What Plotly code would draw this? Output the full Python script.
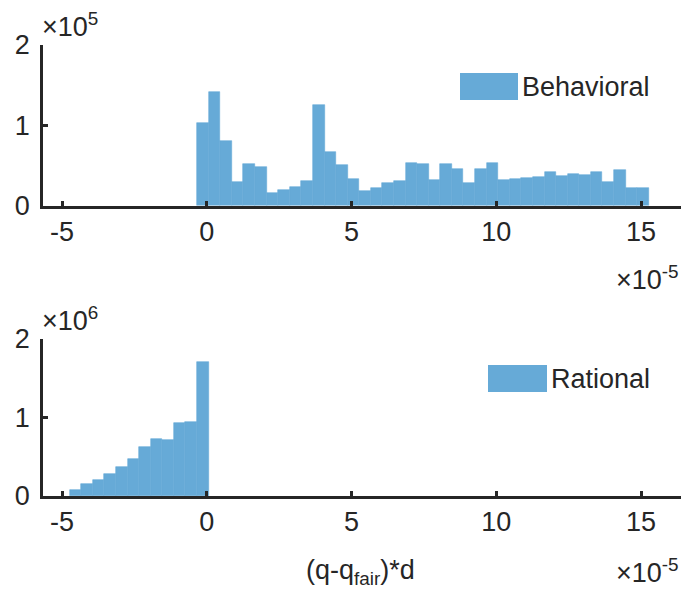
import plotly.graph_objects as go

# ---------------- data ----------------
SCALE_X = 1e-5
bin_width = 0.4 * SCALE_X

behav_start = -0.335 * SCALE_X
behav_counts = [103200, 141000, 80400, 29700, 52100, 48000, 15200, 19300, 23100, 30900,
                124900, 67000, 50100, 33000, 18100, 21200, 27700, 30500, 53300, 51700,
                31800, 51700, 45500, 27700, 45900, 53300, 31800, 33000, 34300, 35100,
                41400, 36800, 39300, 38000, 42100, 29300, 43900, 22200, 22200]

rational_start = -4.74 * SCALE_X
rational_counts = [73000, 153000, 204000, 284000, 366000, 475000, 624000, 722000,
                   717000, 930000, 946000, 1707000]

x_tick_vals = [-5e-5, 0, 5e-5, 10e-5, 15e-5]
x_tick_text = ["-5", "0", "5", "10", "15"]
top_y_ticks = [0, 1e5, 2e5]
bot_y_ticks = [0, 1e6, 2e6]
y_tick_text = ["0", "1", "2"]

names = ["Behavioral", "Rational"]

# ---------------- figure ----------------
W, H = 681, 594
BAR = "#66AAD7"
AX = "#262626"
FONT = "Liberation Sans, Arial, sans-serif"
FS = 27


def px(x):
    return x / W


def py(y):
    return 1 - y / H


def centers(start, n):
    return [start + bin_width * (i + 0.5) for i in range(n)]


fig = go.Figure()
fig.add_trace(go.Bar(x=centers(behav_start, len(behav_counts)), y=behav_counts,
                     width=[bin_width] * len(behav_counts), name=names[0],
                     marker=dict(color=BAR, line=dict(color=BAR, width=0.6)),
                     xaxis="x", yaxis="y", showlegend=False))
fig.add_trace(go.Bar(x=centers(rational_start, len(rational_counts)), y=rational_counts,
                     width=[bin_width] * len(rational_counts), name=names[1],
                     marker=dict(color=BAR, line=dict(color=BAR, width=0.6)),
                     xaxis="x2", yaxis="y2", showlegend=False))

xr = [-5.66e-5, 16.38e-5]
axis_common = dict(showline=True, linewidth=2.5, linecolor=AX, ticks="inside",
                   ticklen=5, tickwidth=2.5, tickcolor=AX, showgrid=False,
                   zeroline=False, automargin=False,
                   tickfont=dict(family=FONT, size=FS, color=AX))

fig.update_layout(
    width=W, height=H, margin=dict(l=0, r=0, t=0, b=0, autoexpand=False),
    plot_bgcolor="white", paper_bgcolor="white", bargap=0,
    xaxis=dict(domain=[px(43), 1], range=xr, tickvals=x_tick_vals,
               ticktext=x_tick_text, anchor="y", ticklabelstandoff=0, **axis_common),
    yaxis=dict(domain=[py(205.5), py(45)], range=[0, 2e5], tickvals=top_y_ticks,
               ticktext=y_tick_text, anchor="x", ticklabelstandoff=5, **axis_common),
    xaxis2=dict(domain=[px(43), 1], range=xr, tickvals=x_tick_vals,
                ticktext=x_tick_text, anchor="y2", ticklabelstandoff=0, **axis_common),
    yaxis2=dict(domain=[py(496), py(339)], range=[0, 2e6], tickvals=bot_y_ticks,
                ticktext=y_tick_text, anchor="x2", ticklabelstandoff=5, **axis_common),
)

ann_font = dict(family=FONT, size=FS, color=AX)
annotations = [
    dict(text="×10<sup>5</sup>", x=px(40), y=py(44), xanchor="left", yanchor="bottom"),
    dict(text="×10<sup>-5</sup>", x=px(681), y=py(259), xanchor="right", yanchor="top"),
    dict(text="×10<sup>6</sup>", x=px(40), y=py(338), xanchor="left", yanchor="bottom"),
    dict(text="×10<sup>-5</sup>", x=px(681), y=py(552), xanchor="right", yanchor="top"),
    dict(text="(q-q<sub>fair</sub>)*d", x=px(360), y=py(591), xanchor="center", yanchor="bottom"),
    dict(text=names[0], x=px(520), y=py(87), xanchor="left", yanchor="middle"),
    dict(text=names[1], x=px(549), y=py(379), xanchor="left", yanchor="middle"),
]
for a in annotations:
    fig.add_annotation(xref="paper", yref="paper", showarrow=False, font=ann_font, **a)

fig.add_shape(type="rect", xref="paper", yref="paper", x0=px(460), x1=px(518),
              y0=py(100), y1=py(73), fillcolor=BAR, line=dict(width=0))
fig.add_shape(type="rect", xref="paper", yref="paper", x0=px(488), x1=px(547),
              y0=py(392), y1=py(365), fillcolor=BAR, line=dict(width=0))

fig.write_html("out.html")
